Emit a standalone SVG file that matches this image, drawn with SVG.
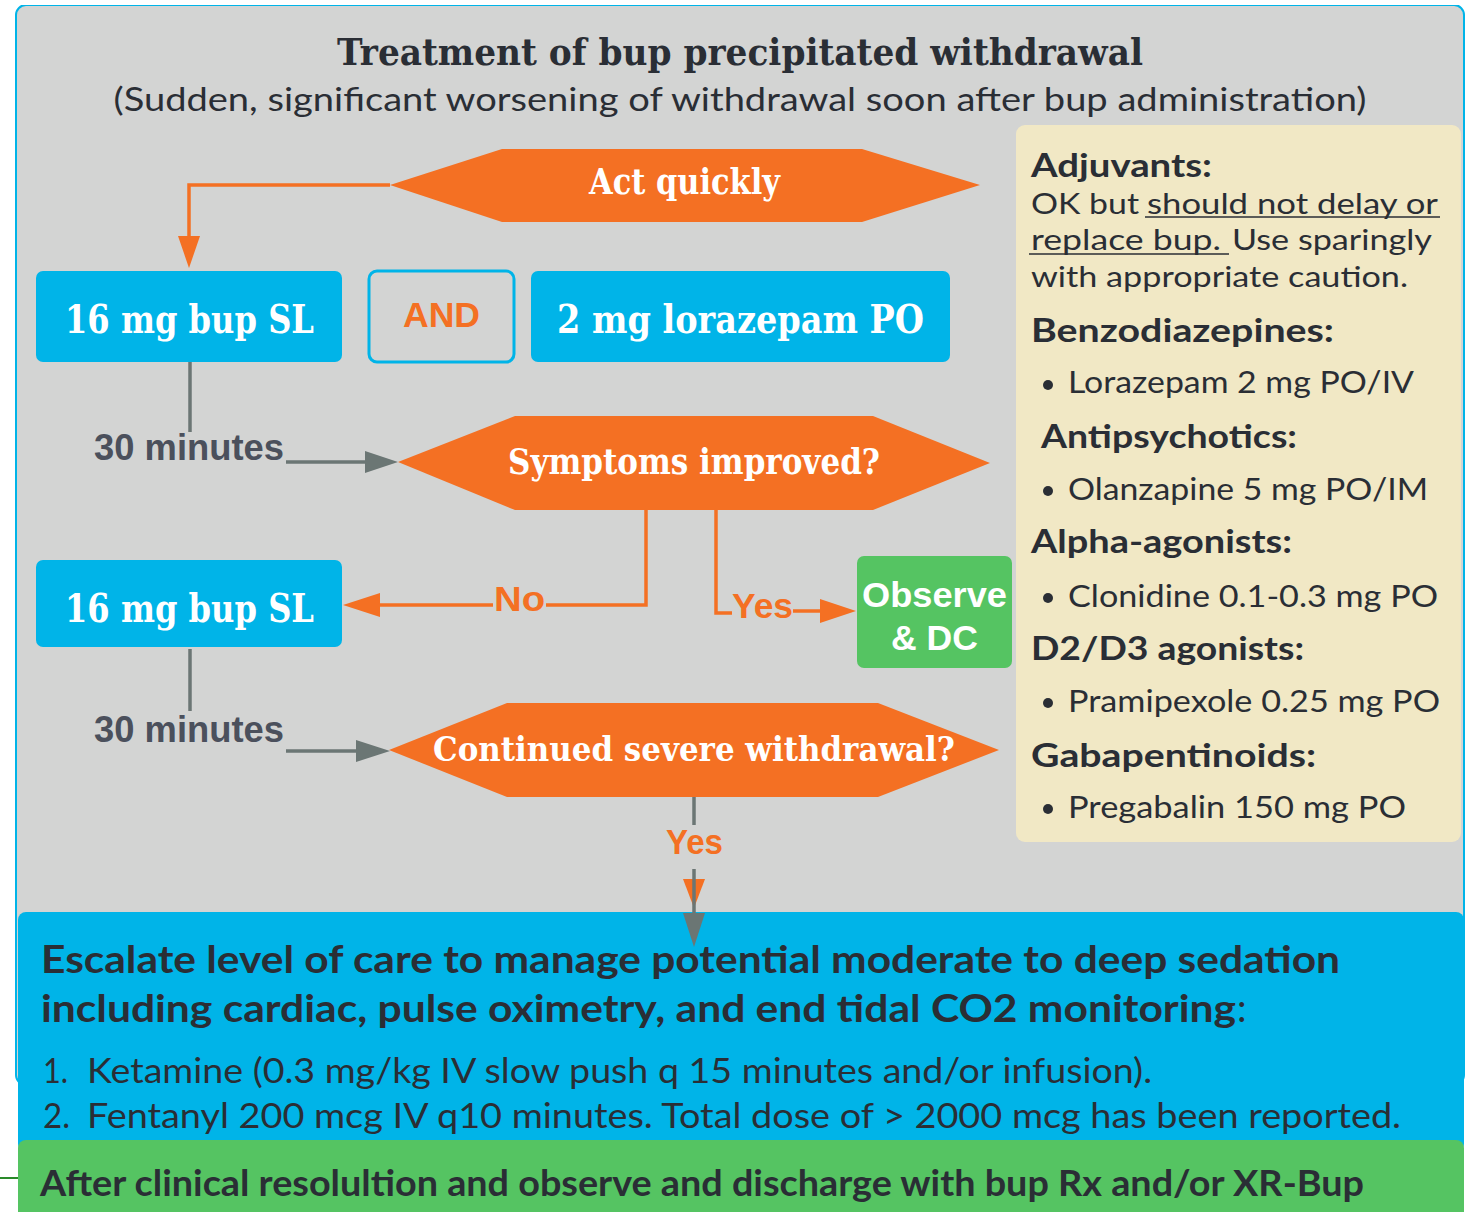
<svg xmlns="http://www.w3.org/2000/svg" width="1473" height="1212" viewBox="0 0 1473 1212">
<style>
.slab{font-family:"DejaVu Serif Condensed","DejaVu Serif","Liberation Serif",serif;font-weight:bold;fill:#fff}
.title{font-family:"DejaVu Serif Condensed","DejaVu Serif","Liberation Serif",serif;font-weight:bold;fill:#2a2e35}
.sub{font-family:Lato,"Noto Sans","Liberation Sans",sans-serif;fill:#2a2e35}
.sb{font-family:"Liberation Sans",Arial,sans-serif;font-weight:bold}
.av{font-family:Lato,"Noto Sans","Liberation Sans",sans-serif;fill:#2a2e35}
.avb{font-family:Lato,"Noto Sans","Liberation Sans",sans-serif;font-weight:bold;fill:#2a2e35}
.org{fill:#f47023}
.blue{fill:#00b4e8}
.ol{stroke:#f47023;stroke-width:3.5;fill:none}
.gl{stroke:#6b7674;stroke-width:3.5;fill:none}
.ul{stroke:#2a2e35;stroke-width:1.6}
</style>

<!-- background panel -->
<rect x="16" y="5" width="1448" height="1080" rx="10" fill="#d3d4d3" stroke="#00b4e8" stroke-width="2"/>
<rect x="15" y="0" width="1452" height="5" fill="#fff"/>

<g id="title">
<text class="title" x="740" y="65" text-anchor="middle" font-size="37" textLength="806" lengthAdjust="spacingAndGlyphs">Treatment of bup precipitated withdrawal</text>
<text class="sub" x="740" y="111" text-anchor="middle" font-size="33" textLength="1253" lengthAdjust="spacingAndGlyphs">(Sudden, significant worsening of withdrawal soon after bup administration)</text>
</g>

<g id="act-quickly">
<polygon class="org" points="390,185 502,149 862,149 980,185 862,222 502,222"/>
<text class="slab" x="589" y="194" font-size="35" textLength="191" lengthAdjust="spacingAndGlyphs">Act quickly</text>
</g>

<g id="bup1">
<rect class="blue" x="36" y="271" width="306" height="91" rx="7"/>
<text class="slab" x="65" y="333" font-size="39" textLength="249" lengthAdjust="spacingAndGlyphs">16 mg bup SL</text>
</g>

<g id="and">
<rect x="369" y="271" width="145" height="91" rx="8" fill="none" stroke="#00b4e8" stroke-width="3"/>
<text class="sb org" x="403" y="327" font-size="35" textLength="77" lengthAdjust="spacingAndGlyphs">AND</text>
</g>

<g id="lorazepam">
<rect class="blue" x="531" y="271" width="419" height="91" rx="7"/>
<text class="slab" x="557" y="333" font-size="39" textLength="367" lengthAdjust="spacingAndGlyphs">2 mg lorazepam PO</text>
</g>

<g id="symptoms">
<polygon class="org" points="398,462 515,416 873,416 990,463 873,510 515,510"/>
<text class="slab" x="508" y="474" font-size="35" textLength="372" lengthAdjust="spacingAndGlyphs">Symptoms improved?</text>
</g>

<g id="bup2">
<rect class="blue" x="36" y="560" width="306" height="87" rx="7"/>
<text class="slab" x="65" y="622" font-size="39" textLength="249" lengthAdjust="spacingAndGlyphs">16 mg bup SL</text>
</g>

<g id="observe">
<rect x="857" y="556" width="155" height="112" rx="7" fill="#55c462"/>
<text class="sb" x="862" y="607" font-size="35" fill="#fff" textLength="145" lengthAdjust="spacingAndGlyphs">Observe</text>
<text class="sb" x="891" y="650" font-size="35" fill="#fff" textLength="87" lengthAdjust="spacingAndGlyphs">&amp; DC</text>
</g>

<g id="continued">
<polygon class="org" points="389,750 507,703 878,703 999,750 878,797 507,797"/>
<text class="slab" x="433" y="761" font-size="34" textLength="522" lengthAdjust="spacingAndGlyphs">Continued severe withdrawal?</text>
</g>

<g id="adjuvants">
<rect x="1016" y="125" width="445" height="717" rx="9" fill="#f1e8c5"/>
<text class="avb" x="1031" y="177" font-size="33" textLength="181" lengthAdjust="spacingAndGlyphs">Adjuvants:</text>
<text class="av" x="1031" y="214" font-size="29" textLength="108" lengthAdjust="spacingAndGlyphs">OK but</text>
<text class="av" x="1147" y="214" font-size="29" textLength="291" lengthAdjust="spacingAndGlyphs">should not delay or</text>
<line class="ul" x1="1145" y1="217" x2="1440" y2="217"/>
<text class="av" x="1031" y="250" font-size="29" textLength="190" lengthAdjust="spacingAndGlyphs">replace bup.</text>
<line class="ul" x1="1029" y1="254" x2="1229" y2="254"/>
<text class="av" x="1232" y="250" font-size="29" textLength="200" lengthAdjust="spacingAndGlyphs">Use sparingly</text>
<text class="av" x="1031" y="287" font-size="29" textLength="377" lengthAdjust="spacingAndGlyphs">with appropriate caution.</text>
<text class="avb" x="1031" y="342" font-size="33" textLength="303" lengthAdjust="spacingAndGlyphs">Benzodiazepines:</text>
<circle cx="1048" cy="385" r="5" fill="#2a2e35"/>
<text class="av" x="1068" y="393" font-size="30" textLength="346" lengthAdjust="spacingAndGlyphs">Lorazepam 2 mg PO/IV</text>
<text class="avb" x="1041" y="448" font-size="33" textLength="256" lengthAdjust="spacingAndGlyphs">Antipsychotics:</text>
<circle cx="1048" cy="491" r="5" fill="#2a2e35"/>
<text class="av" x="1068" y="500" font-size="30" textLength="360" lengthAdjust="spacingAndGlyphs">Olanzapine 5 mg PO/IM</text>
<text class="avb" x="1031" y="553" font-size="33" textLength="261" lengthAdjust="spacingAndGlyphs">Alpha-agonists:</text>
<circle cx="1048" cy="598" r="5" fill="#2a2e35"/>
<text class="av" x="1068" y="607" font-size="30" textLength="370" lengthAdjust="spacingAndGlyphs">Clonidine 0.1-0.3 mg PO</text>
<text class="avb" x="1031" y="660" font-size="33" textLength="273" lengthAdjust="spacingAndGlyphs">D2/D3 agonists:</text>
<circle cx="1048" cy="703" r="5" fill="#2a2e35"/>
<text class="av" x="1068" y="712" font-size="30" textLength="372" lengthAdjust="spacingAndGlyphs">Pramipexole 0.25 mg PO</text>
<text class="avb" x="1031" y="767" font-size="33" textLength="285" lengthAdjust="spacingAndGlyphs">Gabapentinoids:</text>
<circle cx="1048" cy="809" r="5" fill="#2a2e35"/>
<text class="av" x="1068" y="818" font-size="30" textLength="338" lengthAdjust="spacingAndGlyphs">Pregabalin 150 mg PO</text>
</g>

<g id="escalate">
<rect x="18" y="912" width="1446" height="240" rx="8" fill="#00b4e8"/>
<text class="avb" x="41" y="973" font-size="38" textLength="1299" lengthAdjust="spacingAndGlyphs">Escalate level of care to manage potential moderate to deep sedation</text>
<text class="avb" x="41" y="1022" font-size="38" textLength="1195" lengthAdjust="spacingAndGlyphs">including cardiac, pulse oximetry, and end tidal CO2 monitoring</text>
<text class="av" x="1237" y="1022" font-size="38">:</text>
<text class="av" x="43" y="1083" font-size="34" textLength="25" lengthAdjust="spacingAndGlyphs">1.</text>
<text class="av" x="87" y="1083" font-size="34" textLength="1065" lengthAdjust="spacingAndGlyphs">Ketamine (0.3 mg/kg IV slow push q 15 minutes and/or infusion).</text>
<text class="av" x="43" y="1128" font-size="34" textLength="27" lengthAdjust="spacingAndGlyphs">2.</text>
<text class="av" x="87" y="1128" font-size="34" textLength="1314" lengthAdjust="spacingAndGlyphs">Fentanyl 200 mcg IV q10 minutes. Total dose of &gt; 2000 mcg has been reported.</text>
</g>

<g id="discharge">
<line x1="0" y1="1178" x2="18" y2="1178" stroke="#2a8a2a" stroke-width="2"/>
<rect x="18" y="1140" width="1446" height="80" rx="8" fill="#55c462"/>
<text class="avb" x="40" y="1196" font-size="36" textLength="1324" lengthAdjust="spacingAndGlyphs">After clinical resolultion and observe and discharge with bup Rx and/or XR-Bup</text>
</g>

<!-- connectors -->
<g id="connectors">
<polyline class="ol" points="390,185 189,185 189,238"/>
<path d="M178,236 L200,236 L189,268 Z" fill="#f47023"/>
<line class="gl" x1="190" y1="362" x2="190" y2="432"/>
<line class="gl" x1="286" y1="462" x2="367" y2="462"/>
<path d="M365,451 L398,462 L365,473 Z" fill="#6b7674"/>
<polyline class="ol" points="646,510 646,605 546,605"/>
<line class="ol" x1="493" y1="605" x2="378" y2="605"/>
<path d="M380,593 L343,605 L380,617 Z" fill="#f47023"/>
<polyline class="ol" points="716,510 716,613 732,613"/>
<line class="ol" x1="793" y1="611" x2="822" y2="611"/>
<path d="M820,599 L856,611 L820,623 Z" fill="#f47023"/>
<line class="gl" x1="190" y1="649" x2="190" y2="711"/>
<line class="gl" x1="286" y1="751" x2="358" y2="751"/>
<path d="M356,740 L390,751 L356,762 Z" fill="#6b7674"/>
<line class="gl" x1="694" y1="797" x2="694" y2="825"/>
<path d="M683,879 L705,879 L694,908 Z" fill="#f47023"/>
<line class="gl" x1="694" y1="869" x2="694" y2="915"/>
<path d="M683,913 L705,913 L694,947 Z" fill="#6b7674"/>
<text class="sb" x="94" y="460" font-size="36" fill="#4b505c" textLength="190" lengthAdjust="spacingAndGlyphs">30 minutes</text>
<text class="sb" x="94" y="742" font-size="36" fill="#4b505c" textLength="190" lengthAdjust="spacingAndGlyphs">30 minutes</text>
<text class="sb org" x="494" y="611" font-size="35" textLength="51" lengthAdjust="spacingAndGlyphs">No</text>
<text class="sb org" x="732" y="618" font-size="35" textLength="61" lengthAdjust="spacingAndGlyphs">Yes</text>
<text class="sb org" x="666" y="854" font-size="35" textLength="57" lengthAdjust="spacingAndGlyphs">Yes</text>
</g>
</svg>
